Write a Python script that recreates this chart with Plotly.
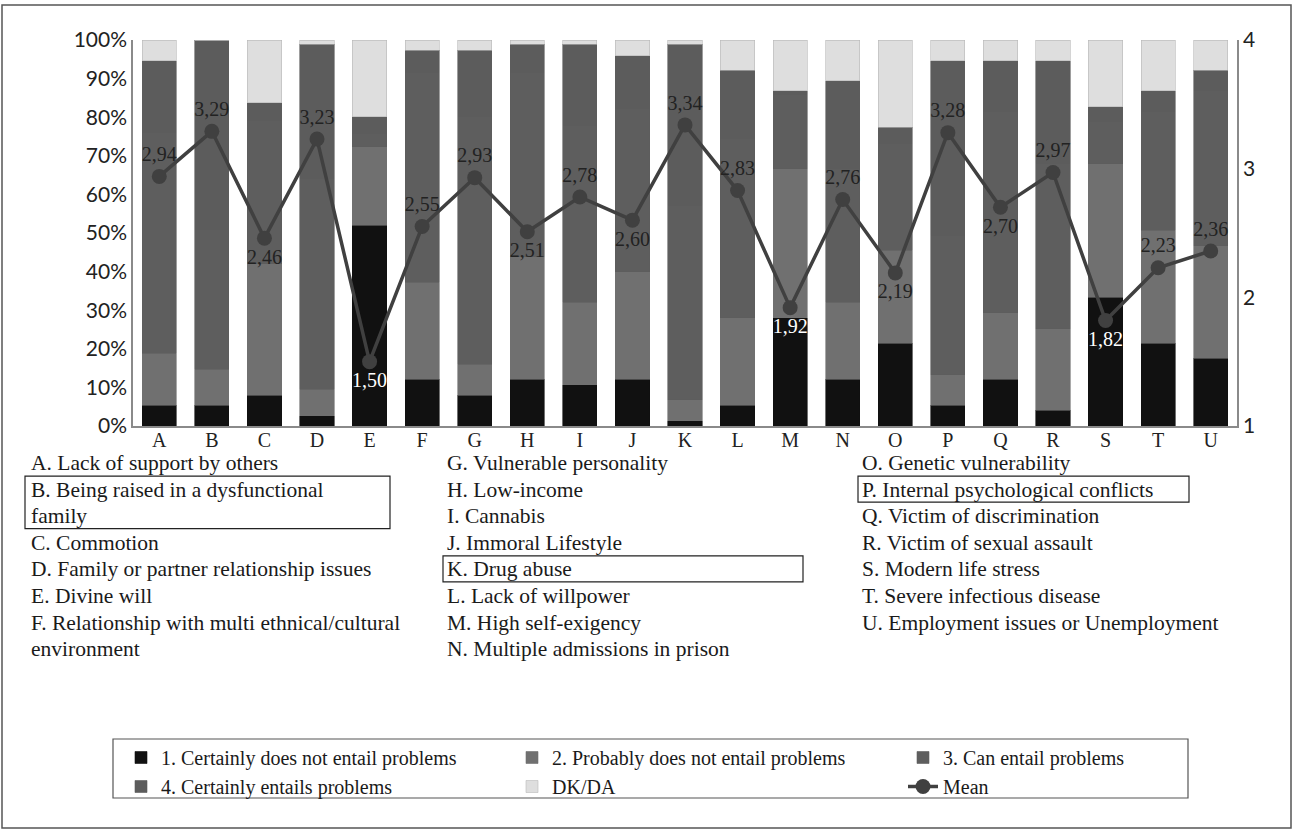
import plotly.graph_objects as go

categories = list("ABCDEFGHIJKLMNOPQRSTU")

certainly_not = [5.4, 5.4, 8.0, 2.7, 52.0, 12.1, 8.0, 12.1, 10.7, 12.1, 1.3, 5.4, 28.0, 12.1, 21.5, 5.4, 12.1, 4.1, 33.4, 21.5, 17.5]
probably_not = [13.5, 9.3, 34.0, 6.8, 20.3, 25.2, 8.0, 31.7, 21.4, 27.8, 5.5, 22.6, 38.6, 20.0, 24.0, 7.9, 17.3, 21.1, 34.6, 29.2, 29.2]
can_entail = [57.1, 36.2, 37.1, 54.5, 3.6, 54.4, 64.1, 47.7, 45.8, 42.4, 50.4, 46.4, 19.3, 34.7, 27.6, 36.1, 52.1, 42.9, 10.9, 30.7, 40.1]
certainly_entails = [18.6, 49.1, 4.7, 34.9, 4.2, 5.6, 17.2, 7.4, 21.0, 13.6, 41.7, 17.7, 0.9, 22.7, 4.3, 45.2, 13.1, 26.5, 3.8, 5.4, 5.3]
dk_da = [5.4, 0.0, 16.2, 1.1, 19.9, 2.7, 2.7, 1.1, 1.1, 4.1, 1.1, 7.9, 13.2, 10.5, 22.6, 5.4, 5.4, 5.4, 17.3, 13.2, 7.9]
means = [2.94, 3.29, 2.46, 3.23, 1.50, 2.55, 2.93, 2.51, 2.78, 2.60, 3.34, 2.83, 1.92, 2.76, 2.19, 3.28, 2.70, 2.97, 1.82, 2.23, 2.36]

series_names = ["1. Certainly does not entail problems", "2. Probably does not entail problems",
                "3. Can entail problems", "4. Certainly entails problems", "DK/DA"]
y_ticks_pct = [0, 10, 20, 30, 40, 50, 60, 70, 80, 90, 100]
y_tick_labels_pct = ["0%", "10%", "20%", "30%", "40%", "50%", "60%", "70%", "80%", "90%", "100%"]
y_ticks_mean = [1, 2, 3, 4]

descriptions_col1 = [["A. Lack of support by others"],
                     ["B. Being raised in a dysfunctional", "family"],
                     ["C. Commotion"],
                     ["D. Family or partner relationship issues"],
                     ["E. Divine will"],
                     ["F. Relationship with multi ethnical/cultural", "environment"]]
descriptions_col2 = [["G. Vulnerable personality"], ["H. Low-income"], ["I. Cannabis"],
                     ["J. Immoral Lifestyle"], ["K. Drug abuse"], ["L. Lack of willpower"],
                     ["M. High self-exigency"], ["N. Multiple admissions in prison"]]
descriptions_col3 = [["O. Genetic vulnerability"], ["P. Internal psychological conflicts"],
                     ["Q. Victim of discrimination"], ["R. Victim of sexual assault"],
                     ["S. Modern life stress"], ["T. Severe infectious disease"],
                     ["U. Employment issues or Unemployment"]]
boxed = ["B", "K", "P"]

# ---- styling ----
W, H = 1294, 831
L, R, T, B = 133, 1237, 40, 426
SERIF = "Liberation Serif"
SANS = "Lato"
bar_colors = ["#111111", "#707070", "#5e5e5e", "#5c5c5c", "#dedede"]
label_pos = ["top center", "top center", "bottom center", "top center", "bottom center", "top center",
             "top center", "bottom center", "top center", "bottom center", "top center", "top center",
             "bottom center", "top center", "bottom center", "top center", "bottom center", "top center",
             "bottom center", "top center", "top center"]
label_col = ["#222222"] * len(categories)
for i, c in enumerate(categories):
    if c in ("E", "M", "S"):
        label_col[i] = "#ffffff"


def px2paper_x(px):
    return (px - L) / (R - L)


def px2paper_y(py):
    return (B - py) / (B - T)


fig = go.Figure()
for name, vals, col in zip(series_names,
                           [certainly_not, probably_not, can_entail, certainly_entails, dk_da],
                           bar_colors):
    fig.add_trace(go.Bar(
        x=categories, y=vals, name=name,
        marker=dict(color=col, line=dict(color="#b8b8b8" if col == "#dedede" else col, width=0.6)),
        hoverinfo="x+y+name",
    ))

fig.add_trace(go.Scatter(
    x=categories, y=means, name="Mean", yaxis="y2",
    mode="lines+markers+text",
    line=dict(color="#404040", width=3.5),
    marker=dict(color="#404040", size=15),
    text=[f"{m:.2f}".replace(".", ",") for m in means],
    textposition=label_pos,
    textfont=dict(family=SERIF, size=20, color=label_col),
))

annotations = []
shapes = []
row_y0, row_h = 463, 26.6
cols = [(30, descriptions_col1), (446, descriptions_col2), (861, descriptions_col3)]
box_geom = {"B": (-5, 365), "K": (-3, 360), "P": (-3, 331)}
for x_px, items in cols:
    row = 0
    for item in items:
        start_row = row
        for line in item:
            annotations.append(dict(
                x=px2paper_x(x_px), y=px2paper_y(row_y0 + row * row_h),
                xref="paper", yref="paper", xanchor="left", yanchor="middle",
                text=line, showarrow=False, borderpad=0,
                font=dict(family=SERIF, size=21.5, color="#1a1a1a"),
            ))
            row += 1
        key = item[0][0]
        if key in boxed:
            off, bw = box_geom[key]
            y_top = row_y0 + start_row * row_h - 13.5
            y_bot = row_y0 + (row - 1) * row_h + 12.5
            shapes.append(dict(type="rect", xref="paper", yref="paper",
                               x0=px2paper_x(x_px + off), x1=px2paper_x(x_px + off + bw),
                               y0=px2paper_y(y_bot), y1=px2paper_y(y_top),
                               line=dict(color="#222222", width=1.2)))

# outer frame
shapes.append(dict(type="rect", xref="paper", yref="paper",
                   x0=px2paper_x(2), x1=px2paper_x(1291), y0=px2paper_y(828), y1=px2paper_y(5),
                   line=dict(color="#555555", width=1.5), layer="below"))
# legend frame
shapes.append(dict(type="rect", xref="paper", yref="paper",
                   x0=px2paper_x(113), x1=px2paper_x(1188), y0=px2paper_y(798), y1=px2paper_y(739),
                   line=dict(color="#555555", width=1.2)))

fig.update_layout(
    width=W, height=H,
    margin=dict(l=L, r=W - R, t=T, b=H - B),
    barmode="stack", bargap=0.35,
    plot_bgcolor="white", paper_bgcolor="white",
    showlegend=True,
    legend=dict(orientation="h", xref="paper", yref="paper",
                x=px2paper_x(121), y=px2paper_y(738), xanchor="left", yanchor="top",
                entrywidth=346, entrywidthmode="pixels", traceorder="normal",
                font=dict(family=SERIF, size=20, color="#1a1a1a"),
                bgcolor="rgba(0,0,0,0)", borderwidth=0, tracegroupgap=0, itemwidth=30),
    xaxis=dict(range=[-0.5, len(categories) - 0.5], showgrid=False, showline=True,
               linecolor="#8a8a8a", linewidth=1.5, ticks="", ticklabelstandoff=-5,
               tickfont=dict(family=SERIF, size=20, color="#222222")),
    yaxis=dict(range=[0, 100], tickvals=y_ticks_pct, ticktext=y_tick_labels_pct, showgrid=False,
               showline=True, linecolor="#8a8a8a", linewidth=1.5, ticks="",
               tickfont=dict(family=SANS, size=21, color="#222222"), zeroline=False),
    yaxis2=dict(range=[1, 4], tickvals=y_ticks_mean, overlaying="y", side="right",
                showgrid=False, showline=True, linecolor="#8a8a8a", linewidth=1.5, ticks="",
                tickfont=dict(family=SANS, size=21, color="#222222"), zeroline=False),
    annotations=annotations, shapes=shapes,
    font=dict(family=SERIF),
)

fig.write_html("out.html", config={"displayModeBar": False},
               post_script="document.body.style.margin='0';")
